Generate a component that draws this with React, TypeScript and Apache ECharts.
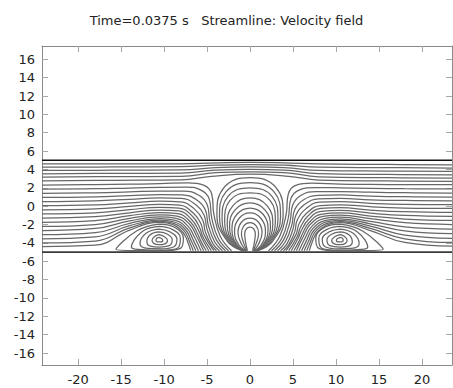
import React, { useEffect, useRef } from 'react';
import * as echarts from 'echarts';

const titleText = 'Time=0.0375 s   Streamline: Velocity field';
const xTicks = [-20, -15, -10, -5, 0, 5, 10, 15, 20];
const yTicks = [-16, -14, -12, -10, -8, -6, -4, -2, 0, 2, 4, 6, 8, 10, 12, 14, 16];
const xRange = [-24.2, 23.5];
const yRange = [-17.3, 17.45];
const wallLines = [
  [[-24.2, 5], [23.5, 5]],
  [[-24.2, -5], [23.5, -5]],
];

// streamlines passing over the central structure
const throughLines = [
  [[-24.2, 4.62], [-16, 4.6], [-8, 4.62], [-4, 4.72], [0, 4.78], [4, 4.72], [8, 4.6], [16, 4.55], [23.5, 4.51]],
  [[-24.2, 4.26], [-16, 4.27], [-8, 4.3], [-4, 4.46], [0, 4.53], [4, 4.46], [8, 4.25], [16, 4.2], [23.5, 4.15]],
  [[-24.2, 3.89], [-16, 3.92], [-8, 3.95], [-4, 4.2], [0, 4.27], [4, 4.2], [8, 3.9], [16, 3.82], [23.5, 3.78]],
  [[-24.2, 3.53], [-16, 3.57], [-8, 3.6], [-4, 3.93], [0, 4.01], [4, 3.93], [8, 3.55], [16, 3.46], [23.5, 3.42]],
  [[-24.2, 3.17], [-16, 3.22], [-8, 3.25], [-4, 3.66], [0, 3.75], [4, 3.66], [8, 3.2], [16, 3.1], [23.5, 3.06]],
  [[-24.2, 2.75], [-16, 2.82], [-8, 2.88], [-4.5, 3.25], [0, 3.48], [4.5, 3.25], [8, 2.85], [16, 2.75], [23.5, 2.7]],
];

// streamlines entering on the left and turning down to the lower wall
const divingLines = [
  [[-24.2, 2.3], [-18, 2.35], [-14, 2.4], [-10.5, 2.45], [-7.2, 2.55], [-5.4, 2.3], [-4.45, 1.3], [-4.2, -0.9], [-3.45, -3.3], [-2.15, -4.85]],
  [[-24.2, 1.85], [-18, 1.9], [-14, 1.98], [-10.5, 2.05], [-7.5, 2.08], [-5.7, 1.75], [-4.75, 0.8], [-4.45, -1.3], [-3.7, -3.5], [-2.5, -4.85]],
  [[-24.2, 1.4], [-18, 1.46], [-14, 1.56], [-10.5, 1.65], [-7.7, 1.65], [-5.95, 1.2], [-5.0, 0.2], [-4.65, -1.7], [-3.9, -3.7], [-2.85, -4.85]],
  [[-24.2, 0.95], [-18, 1.02], [-14, 1.15], [-10.5, 1.27], [-7.9, 1.24], [-6.15, 0.65], [-5.2, -0.4], [-4.85, -2.1], [-4.1, -3.9], [-3.2, -4.85]],
  [[-24.2, 0.5], [-18, 0.58], [-14, 0.75], [-10.5, 0.9], [-8.0, 0.86], [-6.3, 0.15], [-5.35, -0.95], [-5.0, -2.5], [-4.3, -4.1], [-3.55, -4.85]],
  [[-24.2, 0.05], [-18, 0.14], [-14, 0.36], [-10.5, 0.54], [-8.1, 0.48], [-6.45, -0.32], [-5.5, -1.5], [-5.2, -2.8], [-4.5, -4.2], [-3.9, -4.85]],
  [[-24.2, -0.4], [-18, -0.3], [-14, -0.02], [-10.5, 0.2], [-8.2, 0.12], [-6.6, -0.75], [-5.7, -1.95], [-5.35, -3.1], [-4.2, -4.85]],
  [[-24.2, -0.85], [-18, -0.73], [-14, -0.38], [-10.5, -0.12], [-8.25, -0.2], [-6.7, -1.1], [-5.85, -2.35], [-5.5, -3.3], [-4.5, -4.85]],
  [[-24.2, -1.3], [-18, -1.15], [-14, -0.72], [-10.5, -0.42], [-8.3, -0.52], [-6.8, -1.45], [-5.95, -2.7], [-5.6, -3.5], [-4.8, -4.85]],
  [[-24.2, -1.75], [-18, -1.57], [-14, -1.03], [-10.5, -0.7], [-8.4, -0.82], [-6.9, -1.75], [-6.1, -3.0], [-5.75, -3.75], [-5.1, -4.85]],
  [[-24.2, -2.2], [-18, -2.0], [-14, -1.32], [-10.5, -0.95], [-8.5, -1.08], [-7.0, -2.0], [-6.2, -3.3], [-5.4, -4.85]],
  [[-24.2, -2.65], [-18, -2.43], [-14, -1.6], [-10.5, -1.17], [-8.6, -1.32], [-7.15, -2.25], [-6.4, -3.5], [-5.7, -4.85]],
  [[-24.2, -3.1], [-18, -2.88], [-14, -1.87], [-10.5, -1.36], [-8.7, -1.54], [-7.3, -2.45], [-6.6, -3.7], [-6.0, -4.85]],
  [[-24.2, -3.55], [-18, -3.34], [-14, -2.12], [-10.5, -1.52], [-8.8, -1.72], [-7.45, -2.62], [-6.8, -3.85], [-6.3, -4.85]],
  [[-24.2, -4.0], [-18, -3.8], [-14, -2.36], [-10.5, -1.65], [-8.9, -1.87], [-7.6, -2.78], [-7.0, -3.95], [-6.6, -4.85]],
  [[-24.2, -4.4], [-18, -4.25], [-14, -2.6], [-10.5, -1.76], [-9.0, -2.0], [-7.75, -2.92], [-7.2, -4.0], [-6.9, -4.85]],
];

// streamlines rising from the lower wall and leaving on the right
const risingLines = [
  [[2.15, -4.85], [3.45, -3.3], [4.2, -0.9], [4.45, 1.3], [5.4, 2.3], [7.2, 2.5], [10.5, 2.4], [14, 2.37], [18, 2.35], [23.5, 2.34]],
  [[2.5, -4.85], [3.7, -3.5], [4.45, -1.3], [4.75, 0.8], [5.7, 1.75], [7.5, 2.03], [10.5, 2.0], [14, 1.95], [18, 1.9], [23.5, 1.88]],
  [[2.85, -4.85], [3.9, -3.7], [4.65, -1.7], [5.0, 0.2], [5.95, 1.2], [7.7, 1.6], [10.5, 1.6], [14, 1.52], [18, 1.47], [23.5, 1.43]],
  [[3.2, -4.85], [4.1, -3.9], [4.85, -2.1], [5.2, -0.4], [6.15, 0.65], [7.9, 1.18], [10.5, 1.22], [14, 1.1], [18, 1.03], [23.5, 1.0]],
  [[3.55, -4.85], [4.3, -4.1], [5.0, -2.5], [5.35, -0.95], [6.3, 0.15], [8.0, 0.81], [10.5, 0.85], [14, 0.7], [18, 0.62], [23.5, 0.58]],
  [[3.9, -4.85], [4.5, -4.2], [5.2, -2.8], [5.5, -1.5], [6.45, -0.32], [8.1, 0.44], [10.5, 0.5], [14, 0.32], [18, 0.2], [23.5, 0.17]],
  [[4.2, -4.85], [5.35, -3.1], [5.7, -1.95], [6.6, -0.75], [8.2, 0.07], [10.5, 0.15], [14, -0.06], [18, -0.2], [23.5, -0.25]],
  [[4.5, -4.85], [5.5, -3.3], [5.85, -2.35], [6.7, -1.1], [8.25, -0.25], [10.5, -0.17], [14, -0.42], [18, -0.6], [23.5, -0.68]],
  [[4.8, -4.85], [5.6, -3.5], [5.95, -2.7], [6.8, -1.45], [8.3, -0.56], [10.5, -0.46], [14, -0.76], [18, -1.0], [23.5, -1.1]],
  [[5.1, -4.85], [5.75, -3.75], [6.1, -3.0], [6.9, -1.75], [8.4, -0.86], [10.5, -0.74], [14, -1.07], [18, -1.4], [23.5, -1.54]],
  [[5.4, -4.85], [6.2, -3.3], [7.0, -2.0], [8.5, -1.12], [10.5, -0.98], [14, -1.36], [18, -1.8], [23.5, -2.0]],
  [[5.7, -4.85], [6.4, -3.5], [7.15, -2.25], [8.6, -1.36], [10.5, -1.2], [14, -1.65], [18, -2.25], [23.5, -2.5]],
  [[6.0, -4.85], [6.6, -3.7], [7.3, -2.45], [8.7, -1.57], [10.5, -1.38], [14, -1.92], [18, -2.7], [23.5, -3.0]],
  [[6.3, -4.85], [6.8, -3.85], [7.45, -2.62], [8.8, -1.74], [10.5, -1.54], [14, -2.18], [18, -3.15], [23.5, -3.5]],
  [[6.6, -4.85], [7.0, -3.95], [7.6, -2.78], [8.9, -1.89], [10.5, -1.67], [14, -2.42], [18, -3.55], [23.5, -3.95]],
  [[6.9, -4.85], [7.2, -4.0], [7.75, -2.92], [9.0, -2.02], [10.5, -1.78], [14, -2.66], [18, -3.95], [23.5, -4.35]],
];

// nested arches around x = 0
const archLines = [
  [[-0.9, -4.85], [-2.7, -3.74], [-3.85, -0.9], [-3.05, 2.0], [0, 3.1], [3.05, 2.0], [3.85, -0.9], [2.7, -3.74], [0.9, -4.85]],
  [[-0.82, -4.85], [-2.5, -3.82], [-3.55, -1.17], [-2.8, 1.55], [0, 2.56], [2.8, 1.55], [3.55, -1.17], [2.5, -3.82], [0.82, -4.85]],
  [[-0.75, -4.85], [-2.28, -3.9], [-3.25, -1.45], [-2.58, 1.05], [0, 2.0], [2.58, 1.05], [3.25, -1.45], [2.28, -3.9], [0.75, -4.85]],
  [[-0.68, -4.85], [-2.08, -3.98], [-2.95, -1.72], [-2.35, 0.6], [0, 1.46], [2.35, 0.6], [2.95, -1.72], [2.08, -3.98], [0.68, -4.85]],
  [[-0.62, -4.85], [-1.88, -4.06], [-2.65, -2.0], [-1.98, 0.06], [0, 0.9], [1.98, 0.06], [2.65, -2.0], [1.88, -4.06], [0.62, -4.85]],
  [[-0.56, -4.85], [-1.68, -4.14], [-2.38, -2.27], [-1.74, -0.4], [0, 0.36], [1.74, -0.4], [2.38, -2.27], [1.68, -4.14], [0.56, -4.85]],
  [[-0.5, -4.85], [-1.5, -4.22], [-2.1, -2.55], [-1.52, -0.88], [0, -0.2], [1.52, -0.88], [2.1, -2.55], [1.5, -4.22], [0.5, -4.85]],
  [[-0.45, -4.85], [-1.25, -4.3], [-1.8, -2.82], [-1.28, -1.34], [0, -0.74], [1.28, -1.34], [1.8, -2.82], [1.25, -4.3], [0.45, -4.85]],
  [[-0.4, -4.85], [-0.95, -4.2], [-1.4, -2.9], [-1.0, -1.75], [0, -1.3], [1.0, -1.75], [1.4, -2.9], [0.95, -4.2], [0.4, -4.85]],
  [[-0.35, -4.85], [-0.7, -4.1], [-1.0, -3.0], [-0.72, -2.15], [0, -1.8], [0.72, -2.15], [1.0, -3.0], [0.7, -4.1], [0.35, -4.85]],
  [[-0.3, -4.85], [-0.5, -4.0], [-0.62, -3.0], [-0.4, -2.45], [0, -2.28], [0.4, -2.45], [0.62, -3.0], [0.5, -4.0], [0.3, -4.85]],
];

// closed loops of the left eddy
const leftVortexLoops = [
  [[-10.6, -3.4], [-10.25, -3.55], [-10.15, -3.75], [-10.4, -3.9], [-10.75, -3.88], [-10.95, -3.72], [-10.85, -3.5], [-10.6, -3.4]],
  [[-10.6, -3.1], [-10.0, -3.3], [-9.6, -3.7], [-9.9, -4.1], [-10.6, -4.2], [-11.2, -4.05], [-11.4, -3.7], [-11.1, -3.3], [-10.6, -3.1]],
  [[-10.6, -2.8], [-9.6, -3.05], [-9.05, -3.65], [-9.4, -4.3], [-10.5, -4.45], [-11.6, -4.35], [-12.0, -3.85], [-11.6, -3.1], [-10.6, -2.8]],
  [[-10.6, -2.5], [-9.3, -2.8], [-8.5, -3.6], [-8.9, -4.45], [-10.3, -4.65], [-11.9, -4.6], [-12.8, -4.1], [-12.1, -2.95], [-10.6, -2.5]],
  [[-10.6, -2.2], [-9.0, -2.55], [-8.1, -3.5], [-8.4, -4.55], [-10.2, -4.78], [-12.2, -4.75], [-13.8, -4.45], [-12.6, -2.8], [-10.6, -2.2]],
  [[-10.6, -1.95], [-8.8, -2.3], [-7.75, -3.5], [-8.1, -4.6], [-10.0, -4.85], [-12.5, -4.85], [-15.6, -4.7], [-13.2, -2.7], [-10.6, -1.95]],
];

// closed loops of the right eddy
const rightVortexLoops = [
  [[10.5, -3.4], [10.15, -3.55], [10.05, -3.75], [10.3, -3.9], [10.65, -3.88], [10.85, -3.72], [10.75, -3.5], [10.5, -3.4]],
  [[10.5, -3.1], [9.9, -3.3], [9.5, -3.7], [9.8, -4.1], [10.5, -4.2], [11.1, -4.05], [11.3, -3.7], [11.0, -3.3], [10.5, -3.1]],
  [[10.5, -2.8], [9.5, -3.05], [8.95, -3.65], [9.3, -4.3], [10.4, -4.45], [11.5, -4.35], [11.9, -3.85], [11.5, -3.1], [10.5, -2.8]],
  [[10.5, -2.5], [9.2, -2.8], [8.4, -3.6], [8.8, -4.45], [10.2, -4.65], [11.8, -4.6], [12.7, -4.1], [12.0, -2.95], [10.5, -2.5]],
  [[10.5, -2.2], [8.9, -2.55], [8.0, -3.5], [8.3, -4.55], [10.1, -4.78], [12.1, -4.75], [13.7, -4.45], [12.5, -2.8], [10.5, -2.2]],
  [[10.5, -1.95], [8.7, -2.3], [7.65, -3.5], [8.0, -4.6], [9.9, -4.85], [12.4, -4.85], [15.5, -4.7], [13.1, -2.7], [10.5, -1.95]],
];

const FONT = 'DejaVu Sans';
const frameColor = '#8a8a8a';
const tickColor = '#a8a8a8';
const streamColor = '#676767';

function streamSeries(lines: number[][][], prefix: string) {
  return lines.map((pts, i) => ({
    name: `${prefix}${i}`,
    type: 'line',
    data: pts,
    showSymbol: false,
    symbol: 'none',
    smooth: 0.45,
    silent: true,
    lineStyle: { color: streamColor, width: 1.25 },
    z: 2,
  }));
}

function buildOption() {
  const series: any[] = [
    ...streamSeries(throughLines, 't'),
    ...streamSeries(divingLines, 'd'),
    ...streamSeries(risingLines, 'r'),
    ...streamSeries(archLines, 'a'),
    ...streamSeries(leftVortexLoops, 'vl'),
    ...streamSeries(rightVortexLoops, 'vr'),
    ...wallLines.map((pts, i) => ({
      name: `wall${i}`,
      type: 'line',
      data: pts,
      showSymbol: false,
      symbol: 'none',
      silent: true,
      lineStyle: { color: i === 0 ? '#111111' : '#3a3a3a', width: 1.6 },
      z: 3,
    })),
  ];
  const axisCommon = {
    type: 'value',
    splitLine: { show: false },
    axisLine: { show: true, onZero: false, lineStyle: { color: frameColor, width: 1 } },
  };
  return {
    animation: false,
    backgroundColor: '#ffffff',
    title: {
      text: titleText,
      left: 'center',
      top: 9,
      textStyle: { fontFamily: FONT, fontSize: 13, fontWeight: 'normal', color: '#222' },
    },
    grid: { left: 42, top: 46, width: 410, height: 319, containLabel: false },
    xAxis: [
      {
        ...axisCommon,
        position: 'bottom',
        min: xRange[0],
        max: xRange[1],
        axisTick: { show: true, inside: true, length: 6, customValues: xTicks, lineStyle: { color: tickColor } },
        axisLabel: { show: true, customValues: xTicks, color: '#222', fontFamily: FONT, fontSize: 13, margin: 8 },
      },
      {
        ...axisCommon,
        position: 'top',
        min: xRange[0],
        max: xRange[1],
        axisTick: { show: true, inside: true, length: 6, customValues: xTicks, lineStyle: { color: tickColor } },
        axisLabel: { show: false },
      },
    ],
    yAxis: [
      {
        ...axisCommon,
        position: 'left',
        min: yRange[0],
        max: yRange[1],
        axisTick: { show: true, inside: true, length: 6, customValues: yTicks, lineStyle: { color: tickColor } },
        axisLabel: { show: true, customValues: yTicks, color: '#222', fontFamily: FONT, fontSize: 13, margin: 7 },
      },
      {
        ...axisCommon,
        position: 'right',
        min: yRange[0],
        max: yRange[1],
        axisTick: { show: true, inside: true, length: 6, customValues: yTicks, lineStyle: { color: tickColor } },
        axisLabel: { show: false },
      },
    ],
    series,
  };
}

export default function App() {
  const ref = useRef<HTMLDivElement>(null);
  useEffect(() => {
    if (!ref.current) return;
    const chart = echarts.init(ref.current, null, { renderer: 'svg' });
    chart.setOption(buildOption() as any);
    return () => chart.dispose();
  }, []);
  return (
    <div
      ref={ref}
      style={{ position: 'absolute', left: 0, top: 0, width: 453, height: 388, background: '#fff' }}
    />
  );
}
